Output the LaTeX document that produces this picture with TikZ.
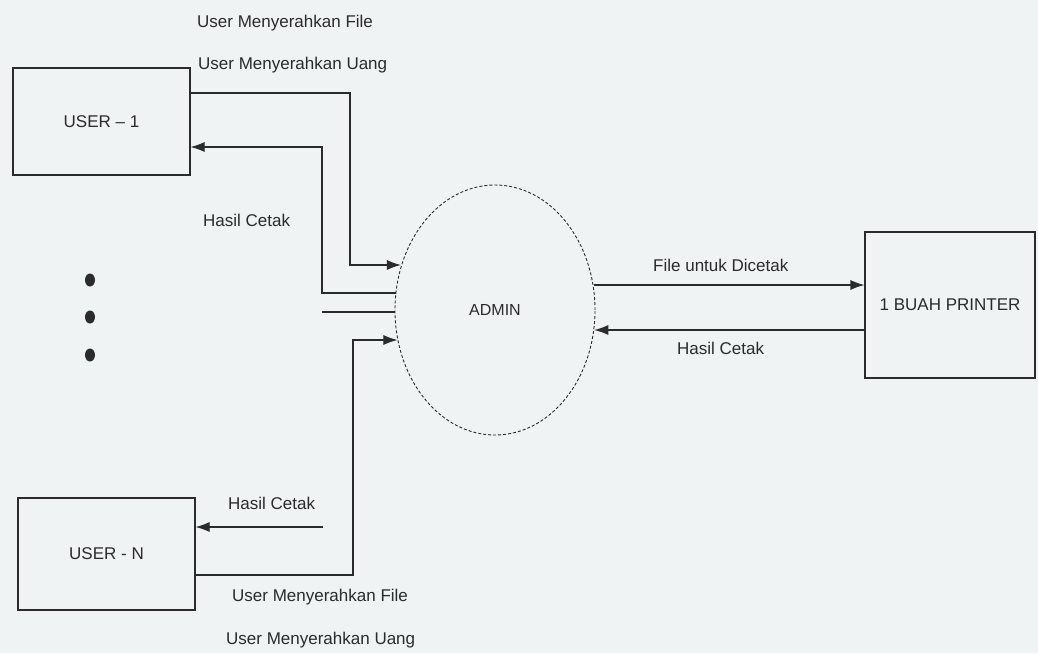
\documentclass[tikz,border=0pt]{standalone}
\usepackage{fontspec}
\setmainfont{Liberation Sans}
\usetikzlibrary{positioning,arrows.meta,shapes.geometric}
\definecolor{paper}{HTML}{EFF3F3}
\definecolor{ink}{HTML}{2B2B2B}
\tikzset{
  ent/.style={rectangle,draw=ink,line width=1.1pt,inner sep=0pt,
    font=\fontsize{17}{20}\selectfont,text=ink},
  proc/.style={ellipse,draw=ink,line width=0.9pt,densely dashed,inner sep=0pt,
    minimum width=200pt,minimum height=250pt,font=\fontsize{16}{19}\selectfont,text=ink},
  ar/.style={-{Latex[length=14pt,width=10pt]},line width=1.1pt,draw=ink},
  ln/.style={line width=1.1pt,draw=ink},
  lbl/.style={anchor=west,inner sep=0pt,font=\fontsize{17}{20}\selectfont,text=ink},
}

\begin{document}
\begin{tikzpicture}[x=1pt,y=-1pt]
  \fill[paper] (0,0) rectangle (1038,653);
  \useasboundingbox (0,0) rectangle (1038,653);

  \node[ent,minimum width=177pt,minimum height=107pt] (user1) at (101.5,121.5) {USER -- 1};
  \node[ent,minimum width=177pt,minimum height=112pt] (userN) at (106.5,554) {USER - N};
  \node[ent,minimum width=170pt,minimum height=146pt] (printer) at (950,305) {1 BUAH PRINTER};
  \node[proc] (admin) at (495,310) {ADMIN};

  \foreach \y in {280,317,355}
    \fill[ink] (90,\y) ellipse [x radius=5pt,y radius=6.5pt];

  % user-1 side
  \draw[ar] (user1.east |- 0,93) -| (350,265) -- (admin.155 |- 0,265);
  \draw[ar] (admin.170 |- 0,293) -| (322,147) -- (user1.east |- 0,147);
  \coordinate (gap) at (322,312);
  \draw[ln] (gap) -- (admin.west |- gap);

  % user-n side
  \draw[ar] (userN.east |- 0,575) -| (353,340) -- (admin.197 |- 0,340);
  \coordinate (backN) at (323,527);
  \draw[ar] (backN) -- (userN.east |- backN);

  % printer side
  \draw[ar] (admin.14 |- 0,285) -- (printer.west |- 0,285);
  \draw[ar] (printer.west |- 0,330) -- (admin.349 |- 0,330);

  \node[lbl] (lf1) at (197,23) {User Menyerahkan File};
  \node[lbl] (lu1) at (198,65) {User Menyerahkan Uang};
  \node[lbl] (lh1) at (203,220) {Hasil Cetak};
  \node[lbl] (lhN) at (228,503) {Hasil Cetak};
  \node[lbl] (lfN) at (232,597) {User Menyerahkan File};
  \node[lbl] (luN) at (226,640) {User Menyerahkan Uang};
  \node[lbl] (lfp) at (653,265) {File untuk Dicetak};
  \node[lbl] (lhp) at (677,348) {Hasil Cetak};
\end{tikzpicture}
\end{document}
